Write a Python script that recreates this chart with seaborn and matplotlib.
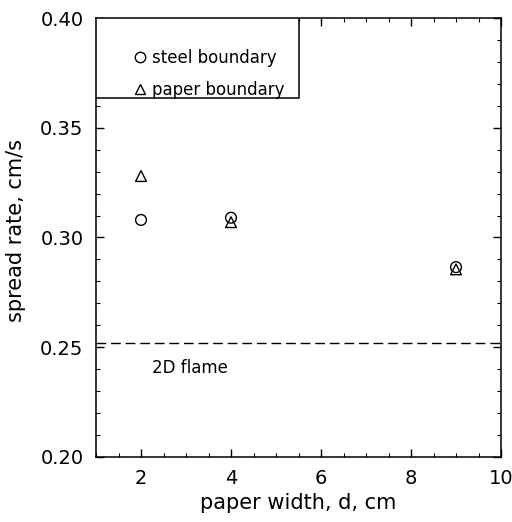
import matplotlib
matplotlib.use("Agg")
import matplotlib.pyplot as plt
import seaborn as sns
import pandas as pd
from matplotlib.ticker import MultipleLocator, FormatStrFormatter
from matplotlib.lines import Line2D
from matplotlib.patches import Rectangle

widths = [2, 4, 9]
steel = [0.308, 0.309, 0.2865]
paper = [0.328, 0.307, 0.2855]
flame_2d = 0.252
labels = ["steel boundary", "paper boundary"]

sns.set_theme(style="ticks")
plt.rcParams['font.family'] = ['DejaVu Sans']
for k in ["text.color", "axes.labelcolor", "xtick.color", "ytick.color", "axes.edgecolor"]:
    plt.rcParams[k] = "black"

df = pd.DataFrame({
    "d": widths * 2,
    "rate": steel + paper,
    "boundary": [labels[0]] * 3 + [labels[1]] * 3,
})

fig = plt.figure(figsize=(5.12, 5.22), dpi=100)
ax = fig.add_axes([96/512, 1 - 457/522, (501 - 96)/512, (457 - 18)/522])

sns.scatterplot(data=df, x="d", y="rate", style="boundary",
                markers={labels[0]: "o", labels[1]: "^"},
                s=60, facecolor="none", edgecolor="black", linewidth=1.0,
                ax=ax, legend=False)

ax.axhline(flame_2d, color="black", linestyle=(0, (7, 3.5)), linewidth=1.0)
ax.text(2.25, 0.2405, "2D flame", fontsize=12, va="center", ha="left")

ax.set_xlim(1, 10)
ax.set_ylim(0.20, 0.40)
ax.xaxis.set_major_locator(MultipleLocator(2))
ax.xaxis.set_minor_locator(MultipleLocator(0.5))
ax.yaxis.set_major_locator(MultipleLocator(0.05))
ax.yaxis.set_minor_locator(MultipleLocator(0.01))
ax.yaxis.set_major_formatter(FormatStrFormatter("%.2f"))
ax.tick_params(which="both", direction="in", top=True, right=True)
ax.tick_params(which="major", length=6, width=1.0, labelsize=14, pad=9)
ax.tick_params(which="minor", length=3, width=0.8)
for sp in ax.spines.values():
    sp.set_linewidth(1.1)

ax.set_xlabel("paper width, d, cm", fontsize=15, labelpad=3)
ax.set_ylabel("spread rate, cm/s", fontsize=15)
ax.yaxis.set_label_coords(-0.172, 0.515)

# legend box
ax.add_patch(Rectangle((0, 1 - 80/439), 203/405, 80/439, transform=ax.transAxes,
                       facecolor="white", edgecolor="black", linewidth=1.1, zorder=3))
handles = [Line2D([], [], marker="o", linestyle="none", markerfacecolor="none",
                  markeredgecolor="black", markersize=7.5),
           Line2D([], [], marker="^", linestyle="none", markerfacecolor="none",
                  markeredgecolor="black", markersize=7.5)]
leg = ax.legend(handles, labels, loc="upper left",
                bbox_to_anchor=(0.096, 0.93), borderaxespad=0, borderpad=0,
                frameon=False, fontsize=12, handlelength=0.6, handletextpad=0.42,
                labelspacing=0.85)
leg.set_zorder(4)

fig.savefig("out.png", dpi=100)
